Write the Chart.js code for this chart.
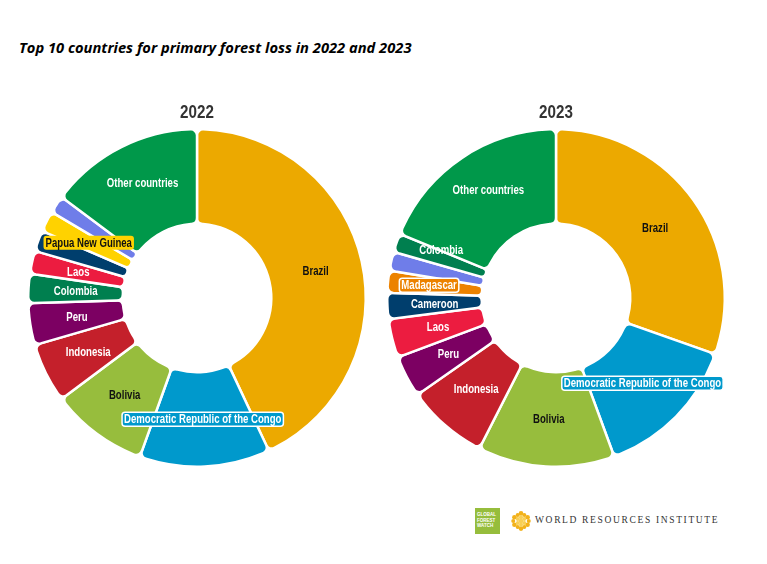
<!DOCTYPE html>
<html>
<head>
<meta charset="utf-8">
<script src="https://cdn.jsdelivr.net/npm/chart.js@4.4.1/dist/chart.umd.min.js"></script>
<style>
  body { margin: 0; background: #fff; width: 767px; height: 564px; position: relative; overflow: hidden; }
  #title { position: absolute; left: 19px; top: 37px; font: italic bold 14.7px "Open Sans", Lato, sans-serif; color: #000; }
  .box { position: absolute; top: 95px; width: 380px; height: 373px; }
  #gfw { position: absolute; left: 475px; top: 508px; width: 25px; height: 26px; background: #96bd3c;
         color: #fff; font: bold 4.5px "Liberation Sans", sans-serif; line-height: 5.5px; padding: 4px 0 0 2px; box-sizing: border-box; }
  #wri { position: absolute; left: 511px; top: 511px; }
  #wriText { position: absolute; left: 535px; top: 515px; font: 9.5px "Liberation Serif", serif; letter-spacing: 1.65px; color: #333; white-space: nowrap; }
</style>
</head>
<body>
<div id="title">Top 10 countries for primary forest loss in 2022 and 2023</div>
<div class="box" style="left:7px"><canvas id="chart2022"></canvas></div>
<div class="box" style="left:366px"><canvas id="chart2023"></canvas></div>
<div id="gfw">GLOBAL<br>FOREST<br>WATCH</div>
<svg id="wri" width="20" height="20" viewBox="0 0 18 18">
  <g fill="#f2b21b">
    <circle cx="9" cy="2.2" r="2.1"/><circle cx="9" cy="15.8" r="2.1"/>
    <circle cx="3.1" cy="5.6" r="2.1"/><circle cx="14.9" cy="5.6" r="2.1"/>
    <circle cx="3.1" cy="12.4" r="2.1"/><circle cx="14.9" cy="12.4" r="2.1"/>
    <circle cx="6" cy="3.6" r="1.8"/><circle cx="12" cy="3.6" r="1.8"/>
    <circle cx="6" cy="14.4" r="1.8"/><circle cx="12" cy="14.4" r="1.8"/>
    <circle cx="2" cy="9" r="1.8"/><circle cx="16" cy="9" r="1.8"/>
  </g>
  <g fill="#f8cf55">
    <circle cx="9" cy="9" r="2.1"/>
    <circle cx="6.1" cy="7.3" r="1.8"/><circle cx="11.9" cy="7.3" r="1.8"/>
    <circle cx="6.1" cy="10.7" r="1.8"/><circle cx="11.9" cy="10.7" r="1.8"/>
    <circle cx="9" cy="5.6" r="1.8"/><circle cx="9" cy="12.4" r="1.8"/>
  </g>
</svg>
<div id="wriText">WORLD RESOURCES INSTITUTE</div>

<script>
// share of top 10 primary forest loss (%)
const countries2022 = ['Brazil', 'Democratic Republic of the Congo', 'Bolivia', 'Indonesia', 'Peru', 'Colombia', 'Laos', 'Cameroon', 'Papua New Guinea', 'Nicaragua', 'Other countries'];
const values2022 = [43.0, 12.5, 9.3, 5.7, 4.0, 2.8, 2.2, 2.0, 2.0, 1.7, 14.8];

const countries2023 = ['Brazil', 'Democratic Republic of the Congo', 'Bolivia', 'Indonesia', 'Peru', 'Laos', 'Cameroon', 'Madagascar', 'Nicaragua', 'Colombia', 'Other countries'];
const values2023 = [30.4, 14.0, 13.1, 7.8, 4.0, 3.7, 2.5, 2.1, 1.8, 1.8, 18.8];

// slices that get no text on the ring
const unlabeled2022 = ['Cameroon', 'Nicaragua'];
const unlabeled2023 = ['Nicaragua'];

const countryColors = {
    'Brazil': '#eca900',
    'Democratic Republic of the Congo': '#0099cc',
    'Bolivia': '#97bd3d',
    'Indonesia': '#c4202b',
    'Peru': '#7c0062',
    'Colombia': '#007f4f',
    'Laos': '#ec1c40',
    'Cameroon': '#003e6d',
    'Papua New Guinea': '#ffd200',
    'Nicaragua': '#6f7de9',
    'Madagascar': '#ec8200',
    'Other countries': '#00984a'
};
const darkText = ['Brazil', 'Bolivia', 'Papua New Guinea'];
const boxed = ['Democratic Republic of the Congo', 'Papua New Guinea', 'Madagascar'];

// no condensed face installed, so squeeze a normal bold one
const labelFont = 'bold 12px "Liberation Sans", Arial, sans-serif';
const squeeze = 0.8;

function narrowText(ctx, text, x, y, sx) {
    ctx.save();
    ctx.translate(x, y);
    ctx.scale(sx, 1);
    ctx.fillText(text, 0, 0);
    ctx.restore();
}

const sliceLabels = {
    id: 'sliceLabels',
    afterDatasetsDraw(chart, args, opts) {
        const ctx = chart.ctx;
        const names = chart.data.labels;
        const arcs = chart.getDatasetMeta(0).data;
        ctx.save();
        ctx.font = labelFont;
        ctx.textAlign = 'center';
        ctx.textBaseline = 'middle';
        arcs.forEach((arc, i) => {
            const name = names[i];
            if (opts.hide.includes(name)) return;
            const p = arc.tooltipPosition();
            const nudge = (opts.nudge && opts.nudge[name]) || [0, 0];
            const x = p.x + nudge[0], y = p.y + nudge[1];
            if (boxed.includes(name)) {
                const w = ctx.measureText(name).width * squeeze + 4;
                ctx.beginPath();
                ctx.roundRect(x - w / 2, y - 7, w, 14, 3);
                ctx.fillStyle = countryColors[name];
                ctx.fill();
                if (name !== 'Papua New Guinea') {
                    ctx.strokeStyle = '#fff';
                    ctx.lineWidth = 1.5;
                    ctx.stroke();
                }
            }
            ctx.fillStyle = darkText.includes(name) ? '#111' : '#fff';
            narrowText(ctx, name, x, y + 0.5, squeeze);
        });
        ctx.restore();
    },
    afterDraw(chart, args, opts) {
        const ctx = chart.ctx;
        const area = chart.chartArea;
        ctx.save();
        ctx.font = 'bold 19px "Liberation Sans", Arial, sans-serif';
        ctx.fillStyle = '#333';
        ctx.textAlign = 'center';
        ctx.textBaseline = 'middle';
        narrowText(ctx, opts.year, (area.left + area.right) / 2, 113 - 95, 0.8);
        ctx.restore();
    }
};

function makeDoughnut(id, year, names, values, hide, nudge) {
    return new Chart(document.getElementById(id), {
        type: 'doughnut',
        data: {
            labels: names,
            datasets: [{
                data: values,
                backgroundColor: names.map(n => countryColors[n]),
                borderColor: '#fff',
                borderWidth: 2.5,
                borderRadius: 6,
                hoverOffset: 0
            }]
        },
        options: {
            responsive: true,
            maintainAspectRatio: false,
            animation: false,
            cutout: '44%',
            layout: { padding: { top: 33 } },
            plugins: {
                legend: { display: false },
                tooltip: { enabled: false },
                sliceLabels: { year: year, hide: hide, nudge: nudge }
            }
        },
        plugins: [sliceLabels]
    });
}

makeDoughnut('chart2022', '2022', countries2022, values2022, unlabeled2022, { 'Other countries': [0, -6] });
makeDoughnut('chart2023', '2023', countries2023, values2023, unlabeled2023, { 'Other countries': [0, -7], 'Colombia': [0, -8], 'Madagascar': [-6, -1] });
</script>
</body>
</html>
